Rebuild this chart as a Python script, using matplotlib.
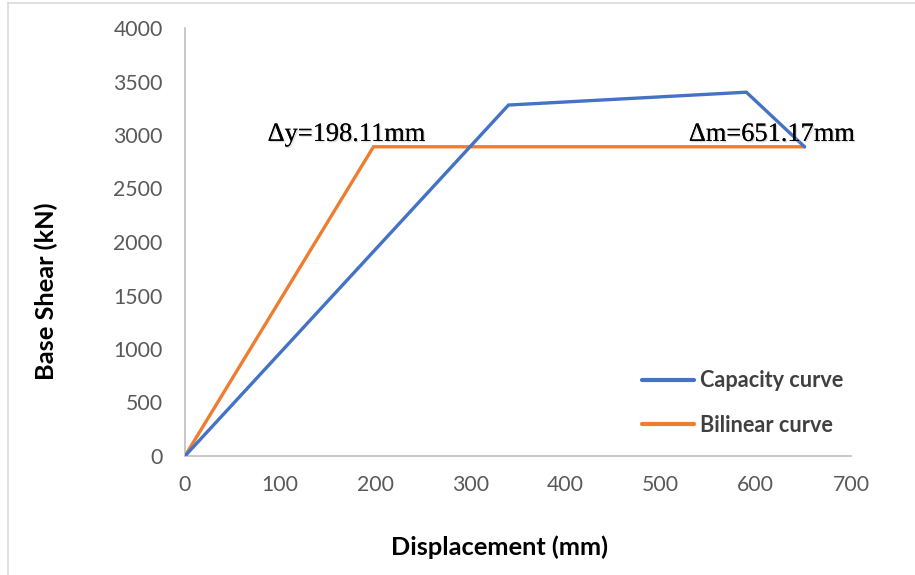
import matplotlib
matplotlib.use("Agg")
import matplotlib.pyplot as plt
import matplotlib.patheffects as pe
from matplotlib.lines import Line2D

# Pushover capacity curve and its idealised bilinear representation
capacity_disp = [0, 340, 590, 651.17]
capacity_shear = [0, 3280, 3400, 2890]
bilinear_disp = [0, 198.11, 651.17]
bilinear_shear = [0, 2890, 2890]
series_names = ["Capacity curve", "Bilinear curve"]
x_ticks = [0, 100, 200, 300, 400, 500, 600, 700]
y_ticks = [0, 500, 1000, 1500, 2000, 2500, 3000, 3500, 4000]
yield_label = "\u0394y=198.11mm"
ultimate_label = "\u0394m=651.17mm"

BLUE = "#4472C4"
ORANGE = "#ED7D31"
AXIS_GRAY = "#BFBFBF"
TICK_GRAY = "#595959"
sans = ["Lato", "DejaVu Sans"]

fig = plt.figure(figsize=(9.15, 5.75), dpi=100)
ax = fig.add_axes([185 / 915, 1 - 456 / 575, 666 / 915, 428 / 575])

ax.plot(capacity_disp, capacity_shear, color=BLUE, lw=2.4,
        solid_capstyle="round", solid_joinstyle="miter", label=series_names[0], zorder=3)
ax.plot(bilinear_disp, bilinear_shear, color=ORANGE, lw=2.4,
        solid_capstyle="round", solid_joinstyle="miter", label=series_names[1], zorder=2)

ax.set_xlim(x_ticks[0], x_ticks[-1])
ax.set_ylim(y_ticks[0], y_ticks[-1])
ax.set_xticks(x_ticks)
ax.set_yticks(y_ticks)
ax.tick_params(length=0, labelsize=15.3, labelcolor=TICK_GRAY)
ax.tick_params(axis="y", pad=16)
ax.tick_params(axis="x", pad=14)
for lbl in ax.get_xticklabels() + ax.get_yticklabels():
    lbl.set_family(sans)

for side in ("top", "right"):
    ax.spines[side].set_visible(False)
for side in ("left", "bottom"):
    ax.spines[side].set_color(AXIS_GRAY)
    ax.spines[side].set_linewidth(1.2)

ax.set_xlabel("Displacement (mm)", fontsize=18.3, fontweight="bold",
              family=sans, color="black", va="center")
ax.set_ylabel("Base Shear (kN)", fontsize=18.3, fontweight="bold",
              family=sans, color="black", va="center")
ax.xaxis.set_label_coords(0.473, -0.2126)
ax.yaxis.set_label_coords(-0.2087, 0.3855)

shadow = [pe.withSimplePatchShadow(offset=(1.0, -1.0), shadow_rgbFace="#b0b0b0", alpha=0.45),
          pe.Normal()]
serif = ["Liberation Serif", "DejaVu Serif"]
ax.text(170, 2945, yield_label, ha="center", va="baseline", fontsize=19,
        family=serif, color="black", path_effects=shadow, zorder=4)
ax.text(617, 2945, ultimate_label, ha="center", va="baseline", fontsize=19,
        family=serif, color="black", path_effects=shadow, zorder=4)

handles = [Line2D([], [], color=BLUE, lw=3, solid_capstyle="round"),
           Line2D([], [], color=ORANGE, lw=3, solid_capstyle="round")]
leg = fig.legend(handles, series_names, loc="center left",
                 bbox_to_anchor=(622 / 915, 1 - 403 / 575), frameon=False,
                 handlelength=2.4, handletextpad=0.3, labelspacing=1.08,
                 prop={"family": sans, "size": 15.6, "weight": "bold"})
for t in leg.get_texts():
    t.set_color("#404040")

# thin frame edges along the left and top of the chart area
fig.add_artist(Line2D([8 / 915, 8 / 915], [0, 1 - 3 / 575], color="#D9D9D9", lw=1.2,
                      transform=fig.transFigure))
fig.add_artist(Line2D([8 / 915, 1], [1 - 3 / 575, 1 - 3 / 575], color="#D9D9D9", lw=1.2,
                      transform=fig.transFigure))

fig.savefig("out.png", dpi=100, facecolor="white")
